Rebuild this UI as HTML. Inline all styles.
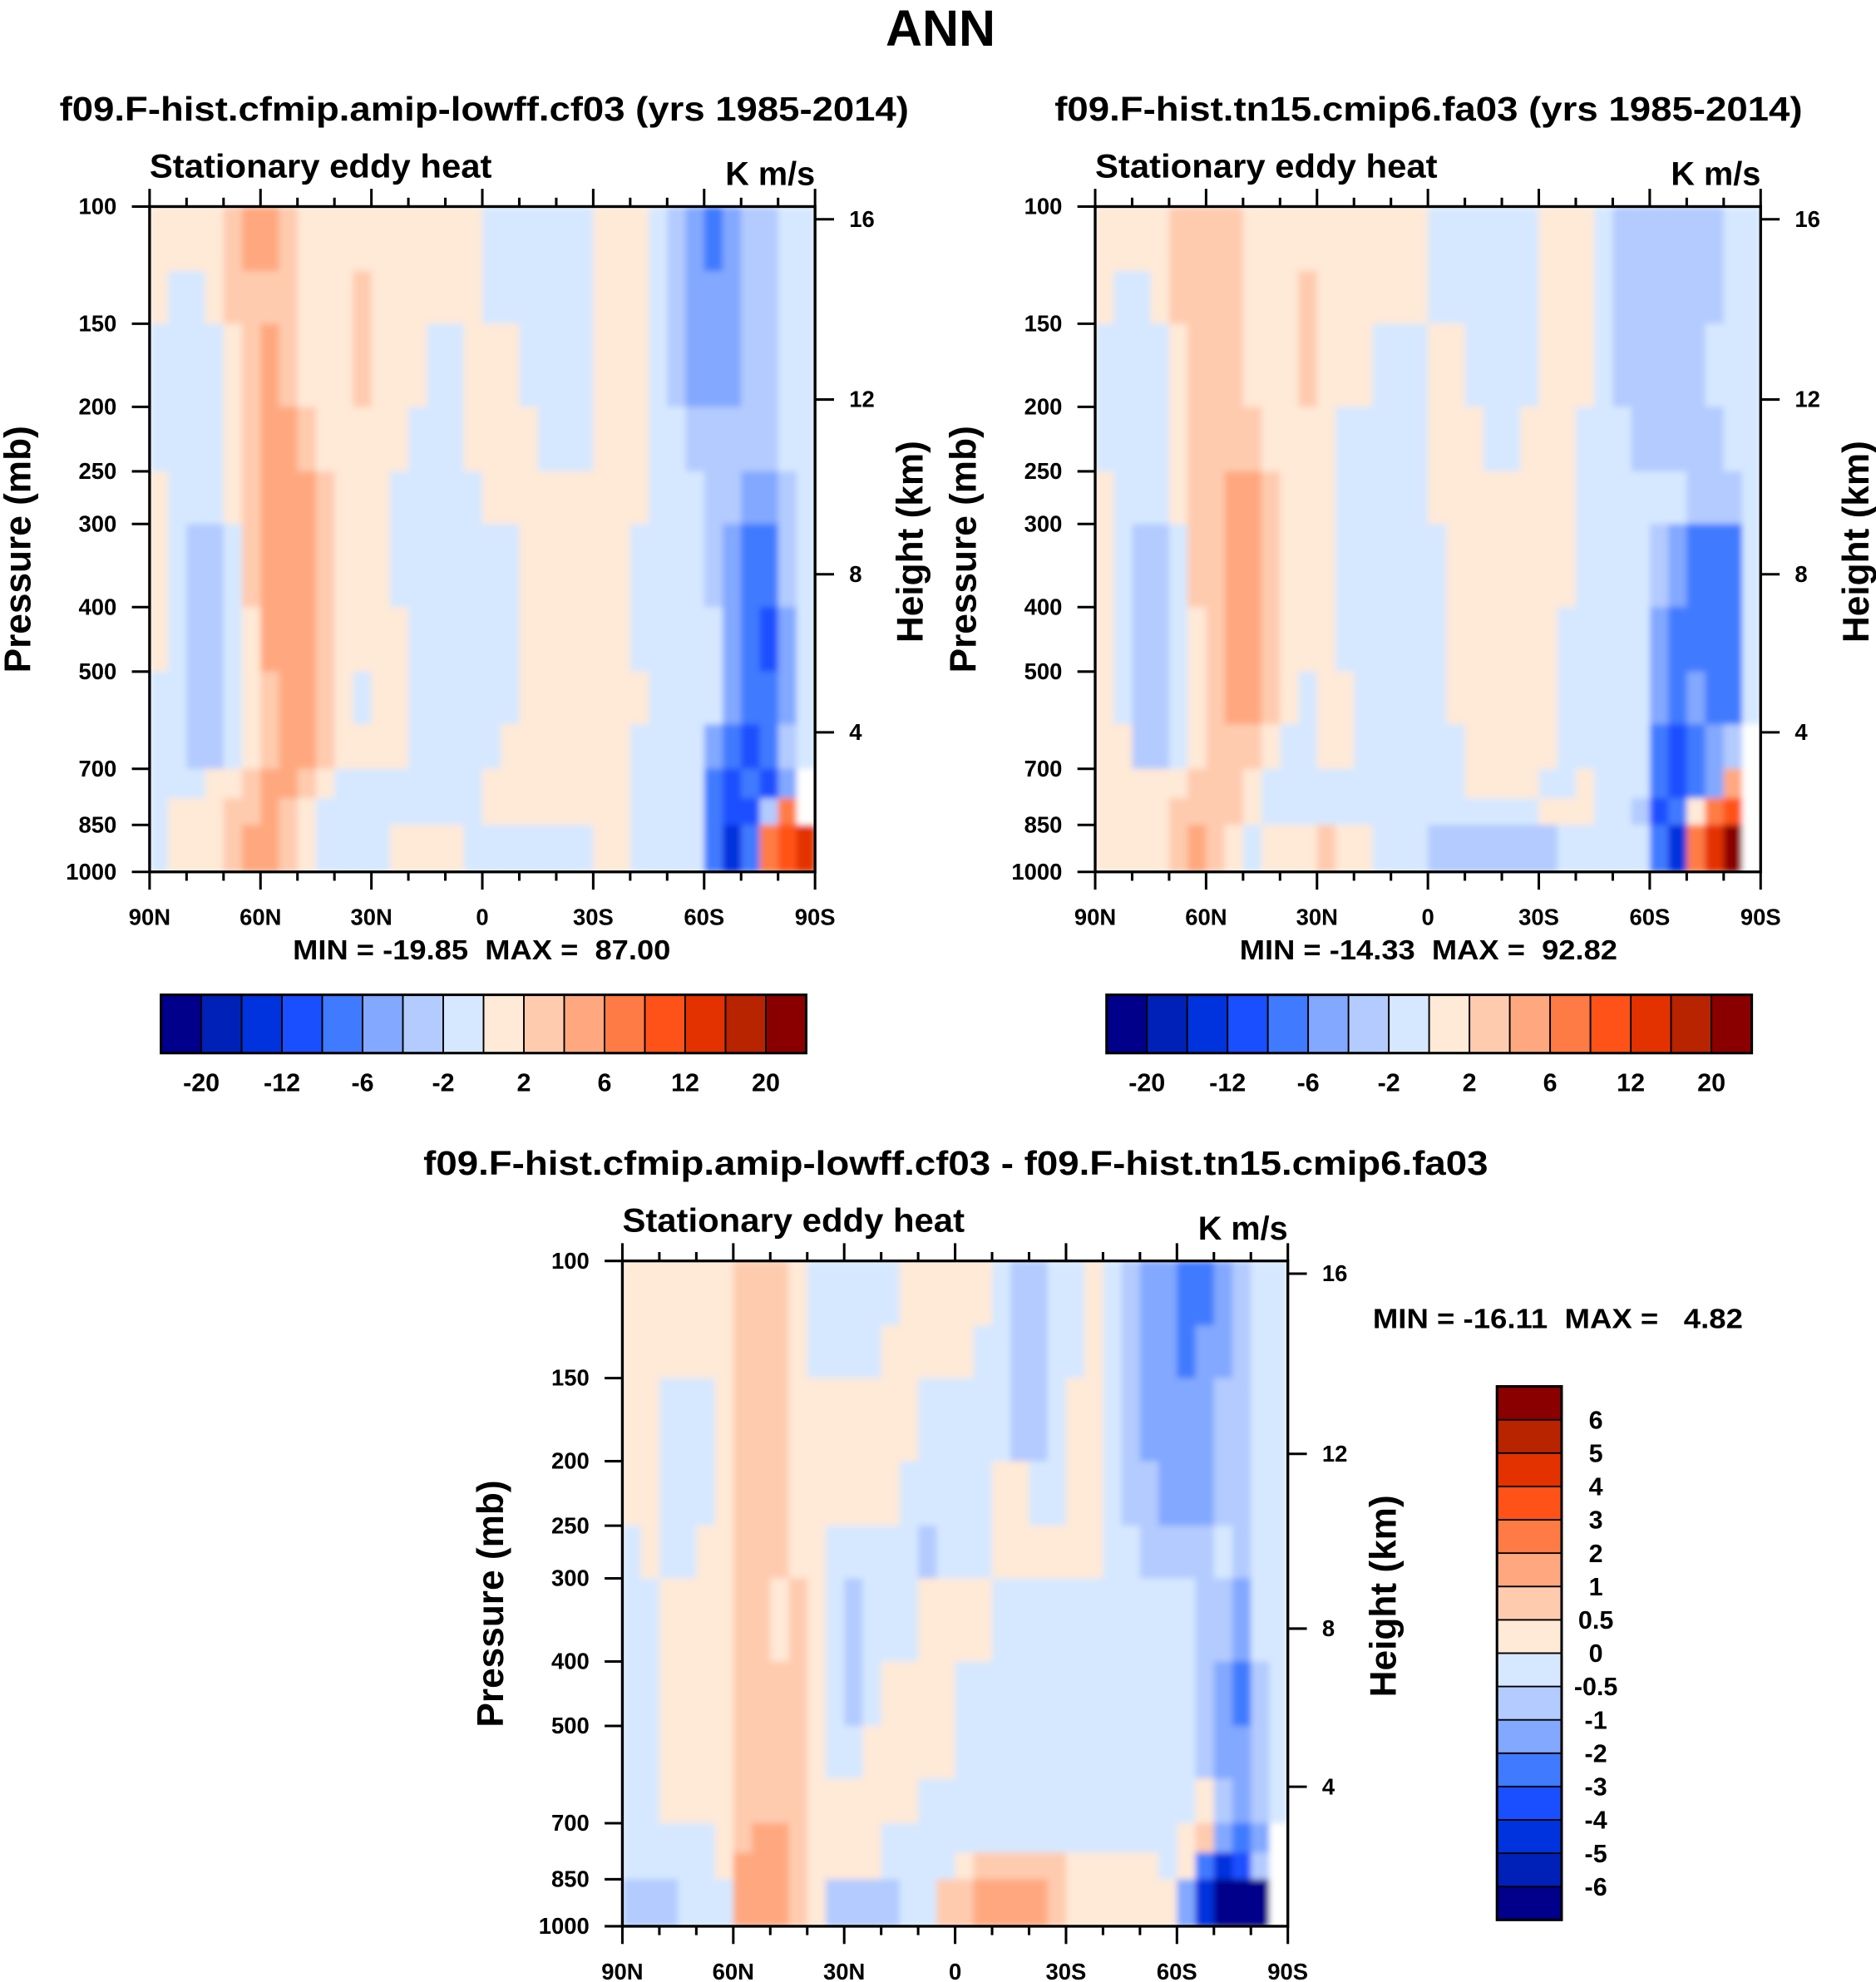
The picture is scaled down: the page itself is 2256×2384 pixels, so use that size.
<!DOCTYPE html>
<html><head><meta charset="utf-8"><title>ANN Stationary eddy heat</title>
<style>
html,body{margin:0;padding:0;background:#fff;}
svg{display:block;font-family:"Liberation Sans",Arial,sans-serif;font-weight:bold;}
text{white-space:pre;}
</style></head>
<body>
<svg id="fig" xmlns="http://www.w3.org/2000/svg" width="2256" height="2384" viewBox="0 0 1480 1564">
<defs>
<filter id="soft" x="0" y="0" width="1" height="1"><feGaussianBlur stdDeviation="2.5" edgeMode="duplicate"/></filter>
</defs>
<rect x="0" y="0" width="1480" height="1564" fill="#fff"/>
</svg>
<script>
const colors = ["#00008a","#0021b8","#0033dd","#1a4fff","#3f7aff","#82a8ff","#b3cbff","#d6e8ff","#ffe9d7","#ffcbaf","#ffa87f","#ff7b45","#ff5218","#e33200","#b82300","#8a0000"];
const levelsAbs = [-20,-16,-12,-8,-6,-4,-2,0,2,4,6,8,12,16,20];
const levelsDiff = [-6,-5,-4,-3,-2,-1,-0.5,0,0.5,1,2,3,4,5,6];
const cbLabelsAbs = ["-20","-12","-6","-2","2","6","12","20"];
const cbLabelsDiff = ["-6","-5","-4","-3","-2","-1","-0.5","0","0.5","1","2","3","4","5","6"];
const latEdges = [];
for (let i = 0; i <= 36; i++) latEdges.push(90 - 5 * i);
const pEdges = [100,125,150,200,250,300,400,500,600,700,775,850,1000];
const pTicks = [100,150,200,250,300,400,500,700,850,1000];
const latTicks = [90,60,30,0,-30,-60,-90];
const latTickLabels = ["90N","60N","30N","0","30S","60S","90S"];
const heightTicks = [4,8,12,16];
const heightTickPress = [617,357,195,104.5];

const field1 = [
[1,1,1,1,3,5,5,3,1,1,1,1,1,1,1,1,1,1,-1,-1,-1,-1,-1,-1,1,1,1,-1,-3,-5,-7,-5,-3,-3,-1,-1],
[1,-1,-1,1,3,3,3,3,1,1,1,3,1,1,1,1,1,1,-1,-1,-1,-1,-1,-1,1,1,1,-1,-3,-5,-5,-5,-3,-3,-1,-1],
[-1,-1,-1,-1,1,3,5,3,1,1,1,3,1,1,1,-1,-1,1,1,1,-1,-1,-1,-1,1,1,1,-1,-3,-5,-5,-5,-3,-3,-1,-1],
[-1,-1,-1,-1,1,3,5,5,3,1,1,1,1,1,-1,-1,-1,1,1,1,1,-1,-1,-1,1,1,1,-1,-1,-3,-3,-3,-3,-3,-1,-1],
[1,-1,-1,-1,1,3,5,5,5,3,1,1,1,-1,-1,-1,-1,-1,1,1,1,1,1,1,1,1,1,-1,-1,-1,-3,-3,-5,-5,-3,-1],
[1,-1,-3,-3,-1,3,5,5,5,3,1,1,1,-1,-1,-1,-1,-1,-1,-1,1,1,1,1,1,1,-1,-1,-1,-1,-3,-5,-7,-7,-3,-1],
[1,-1,-3,-3,-1,1,5,5,5,3,1,1,1,1,-1,-1,-1,-1,-1,-1,1,1,1,1,1,1,-1,-1,-1,-1,-1,-5,-7,-10,-5,-1],
[-1,-1,-3,-3,-1,1,3,5,5,3,1,-1,1,1,-1,-1,-1,-1,-1,-1,1,1,1,1,1,1,1,-1,-1,-1,-1,-5,-7,-7,-5,-1],
[-1,-1,-3,-3,-1,1,3,5,5,3,1,1,1,1,-1,-1,-1,-1,-1,1,1,1,1,1,1,1,-1,-1,-1,-1,-5,-7,-10,-7,-3,-1],
[-1,-1,-1,1,1,3,5,5,3,1,-1,-1,-1,-1,-1,-1,-1,-1,1,1,1,1,1,1,1,1,-1,-1,-1,-1,-7,-10,-7,-10,-5,null],
[-1,1,1,1,3,3,5,3,1,-1,-1,-1,-1,-1,-1,-1,-1,-1,1,1,1,1,1,1,1,1,-1,-1,-1,-1,-7,-10,-10,-3,7,null],
[-1,1,1,1,3,5,5,3,1,-1,-1,-1,-1,1,1,1,1,-1,-1,-1,-1,-1,-1,-1,1,1,-1,-1,-1,-1,-7,-14,-7,7,10,14]
];
const field2 = [
[1,1,1,1,3,3,3,3,1,1,1,1,1,1,1,1,1,1,-1,-1,-1,-1,-1,-1,1,1,1,-1,-3,-3,-3,-3,-3,-3,-1,-1],
[1,-1,-1,1,3,3,3,3,1,1,1,3,1,1,1,1,1,1,-1,-1,-1,-1,-1,-1,1,1,1,-1,-3,-3,-3,-3,-3,-3,-1,-1],
[-1,-1,-1,-1,1,3,3,3,1,1,1,3,1,1,1,-1,-1,-1,1,1,-1,-1,-1,-1,1,1,1,-1,-3,-3,-3,-3,-3,-1,-1,-1],
[-1,-1,-1,-1,1,3,3,3,3,1,1,1,1,-1,-1,-1,-1,-1,1,1,1,-1,-1,1,1,1,-1,-1,-1,-3,-3,-3,-3,-3,-1,-1],
[1,-1,-1,-1,1,3,3,5,5,3,1,1,1,-1,-1,-1,-1,-1,1,1,1,1,1,1,1,1,-1,-1,-1,-1,-1,-1,-3,-3,-3,-1],
[1,-1,-3,-3,-1,3,3,5,5,3,1,1,1,-1,-1,-1,-1,-1,-1,1,1,1,1,1,1,1,-1,-1,-1,-1,-3,-5,-7,-7,-7,-1],
[1,-1,-3,-3,-1,1,3,5,5,3,1,1,1,-1,-1,-1,-1,-1,-1,1,1,1,1,1,1,-1,-1,-1,-1,-1,-5,-7,-7,-7,-7,-1],
[1,-1,-3,-3,-1,1,3,5,5,3,1,-1,1,1,-1,-1,-1,-1,-1,1,1,1,1,1,1,-1,-1,-1,-1,-1,-5,-7,-5,-7,-7,-1],
[1,1,-3,-3,-1,1,3,3,3,1,-1,-1,1,1,-1,-1,-1,-1,-1,-1,1,1,1,1,1,-1,-1,-1,-1,-1,-7,-10,-7,-5,-3,null],
[1,1,1,1,1,3,3,3,1,-1,-1,-1,-1,-1,-1,-1,-1,-1,-1,-1,1,1,1,1,-1,-1,1,-1,-1,-1,-7,-10,-7,-5,5,null],
[1,1,1,1,3,3,3,3,1,-1,-1,-1,-1,-1,-1,-1,-1,-1,-1,-1,-1,-1,-1,-1,1,1,1,-1,-1,-3,-10,-7,1,7,10,null],
[1,1,1,1,3,5,3,1,-1,1,1,1,3,1,1,-1,-1,-1,-3,-3,-3,-3,-3,-3,-3,-1,-1,-1,-1,-1,-7,-14,7,14,25,null]
];
const field3 = [
[.25,.25,.25,.25,.25,.25,.7,.7,.7,.25,-.25,-.25,-.25,-.25,-.25,.25,.25,.25,.25,.25,-.25,-.7,-.7,-.25,-.25,.25,-.25,-.7,-1.5,-1.5,-2.5,-2.5,-1.5,-.7,-.25,-.25],
[.25,.25,.25,.25,.25,.25,.7,.7,.7,.25,-.25,-.25,-.25,-.25,.25,.25,.25,.25,.25,-.25,-.25,-.7,-.7,-.25,-.25,.25,-.25,-.7,-1.5,-1.5,-2.5,-1.5,-1.5,-.7,-.25,-.25],
[.25,.25,-.25,-.25,-.25,.25,.7,.7,.7,.25,.25,.25,.25,.25,.25,.25,-.25,-.25,-.25,-.25,-.25,-.7,-.7,-.25,.25,.25,-.25,-.7,-1.5,-1.5,-1.5,-1.5,-.7,-.7,-.25,-.25],
[.25,.25,-.25,-.25,-.25,.25,.7,.7,.7,.25,.25,.25,.25,.25,.25,-.25,-.25,-.25,-.25,-.25,.25,.25,-.25,-.25,.25,.25,-.25,-.7,-.7,-1.5,-1.5,-1.5,-.7,-.7,-.25,-.25],
[-.25,.25,-.25,-.25,.25,.25,.7,.7,.7,.25,.25,-.25,-.25,-.25,-.25,-.25,-.7,-.25,-.25,-.25,.25,.25,.25,.25,.25,.25,-.25,-.25,-.7,-.7,-.7,-.7,-.25,-.7,-.25,-.25],
[-.25,-.25,.25,.25,.25,.25,.7,.7,.25,.7,.25,-.25,-.7,-.25,-.25,-.25,.25,.25,.25,.25,-.25,-.25,-.25,-.25,-.25,-.25,-.25,-.25,-.25,-.25,-.25,-.7,-.7,-1.5,-.25,-.25],
[-.25,-.25,.25,.25,.25,.25,.7,.7,.7,.7,.25,-.25,-.7,-.25,.25,.25,.25,.25,-.25,-.25,-.25,-.25,-.25,-.25,-.25,-.25,-.25,-.25,-.25,-.25,-.25,-.7,-1.5,-2.5,-.7,-.25],
[-.25,-.25,.25,.25,.25,.25,.7,.7,.7,.7,.25,-.25,-.25,.25,.25,.25,.25,.25,-.25,-.25,-.25,-.25,-.25,-.25,-.25,-.25,-.25,-.25,-.25,-.25,-.25,-.7,-1.5,-1.5,-.7,-.25],
[-.25,-.25,.25,.25,.25,.25,.7,.7,.7,.7,.25,.25,.25,.25,.25,.25,-.25,-.25,-.25,-.25,-.25,-.25,-.25,-.25,-.25,-.25,-.25,-.25,-.25,-.25,-.25,.25,-.7,-1.5,-.7,-.25],
[-.25,-.25,-.25,-.25,-.25,.25,.7,1.5,1.5,.7,.25,.25,.25,.25,-.25,-.25,-.25,-.25,-.25,-.25,-.25,-.25,-.25,-.25,-.25,-.25,-.25,-.25,-.25,-.25,.25,.7,-1.5,-2.5,-1.5,null],
[-.25,-.25,-.25,-.25,-.25,.25,1.5,1.5,1.5,.7,.25,.25,.25,.25,-.25,-.25,-.25,-.25,.25,.7,.7,.7,.7,.7,.25,.25,.25,.25,.25,-.25,.25,-2.5,-4.5,-3.5,-.7,null],
[-.7,-.7,-.7,-.25,-.25,-.25,1.5,1.5,1.5,.7,.25,-.7,-.7,-.7,-.7,-.25,-.25,.7,.7,1.5,1.5,1.5,1.5,.7,.25,.25,.25,.25,.25,.25,-1.5,-4.5,-7,-7,-7,null]
];

const NS = "http://www.w3.org/2000/svg";
const svg = document.getElementById("fig");
const defs = svg.querySelector("defs");
function mk(tag, attrs, parent) {
  const e = document.createElementNS(NS, tag);
  for (const k in attrs) e.setAttribute(k, attrs[k]);
  (parent || svg).appendChild(e);
  return e;
}
function txt(s, attrs, parent) { const e = mk("text", attrs, parent); e.textContent = s; return e; }
function colorFor(v, levels) {
  let i = 0;
  while (i < levels.length && v >= levels[i]) i++;
  return colors[i];
}

function panel(name, x0, y0, field, levels, title, titleX, titleW) {
  const W = 525, H = 525;
  const g = mk("g", {});
  
  
  const xS = lat => x0 + (90 - lat) / 180 * W;
  const yS = p => y0 + H - Math.log(1000 / p) / Math.log(10) * H;
  const t = txt(title, {x: titleX, y: y0 - 68, "font-size": 27, "text-anchor": "middle", textLength: titleW, lengthAdjust: "spacingAndGlyphs"}, g);
  
  
  const st = txt("Stationary eddy heat", {x: x0, y: y0 - 23, "font-size": 26, textLength: 270, lengthAdjust: "spacingAndGlyphs"}, g);
  
  
  const un = txt("K m/s", {x: x0 + W, y: y0 - 17, "font-size": 26, "text-anchor": "end"}, g);
  
  
  const cpId = "clip-" + name;
  const cp = mk("clipPath", {id: cpId}, defs);
  mk("rect", {x: x0, y: y0, width: W, height: H}, cp);
  const outer = mk("g", {"clip-path": `url(#${cpId})`}, g);
  const cg = mk("g", {filter: "url(#soft)"}, outer);
  
  
  for (let r = 0; r < field.length; r++) {
    for (let c = 0; c < field[r].length; c++) {
      const v = field[r][c];
      const xa = xS(latEdges[c]), xb = xS(latEdges[c + 1]);
      const ya = yS(pEdges[r]), yb = yS(pEdges[r + 1]);
      const cell = mk("rect", {x: xa, y: ya, width: xb - xa + 0.6, height: yb - ya + 0.6, fill: v === null ? "#ffffff" : colorFor(v, levels)}, cg);
      
      
    }
  }
  const fr = mk("rect", {x: x0, y: y0, width: W, height: H, fill: "none", stroke: "#000", "stroke-width": 2.2}, g);
  
  
  for (let lat = 90; lat >= -90; lat -= 10) {
    const major = lat % 30 === 0;
    const L = major ? 14 : 7;
    const xx = xS(lat);
    mk("line", {x1: xx, y1: y0 + H, x2: xx, y2: y0 + H + L, stroke: "#000", "stroke-width": 2}, g);
    mk("line", {x1: xx, y1: y0, x2: xx, y2: y0 - L, stroke: "#000", "stroke-width": 2}, g);
  }
  latTicks.forEach((lat, i) => {
    const l = txt(latTickLabels[i], {x: xS(lat), y: y0 + H + 42, "font-size": 18, "text-anchor": "middle"}, g);
    
    
  });
  pTicks.forEach(p => {
    const yy = yS(p);
    mk("line", {x1: x0 - 14, y1: yy, x2: x0, y2: yy, stroke: "#000", "stroke-width": 2}, g);
    const l = txt(String(p), {x: x0 - 26, y: yy + 6, "font-size": 18, "text-anchor": "end"}, g);
    
    
  });
  heightTicks.forEach((h, i) => {
    const yy = yS(heightTickPress[i]);
    mk("line", {x1: x0 + W, y1: yy, x2: x0 + W + 15, y2: yy, stroke: "#000", "stroke-width": 2}, g);
    const l = txt(String(h), {x: x0 + W + 27, y: yy + 6, "font-size": 18}, g);
    
    
  });
  const ya = txt("Pressure (mb)", {x: 0, y: 0, "font-size": 29, "text-anchor": "middle", transform: `translate(${x0 - 94},${y0 + H / 2 + 8}) rotate(-90)`}, g);
  
  
  const yb = txt("Height (km)", {x: 0, y: 0, "font-size": 29, "text-anchor": "middle", transform: `translate(${x0 + W + 85},${y0 + H / 2 + 2}) rotate(-90)`}, g);
  
  
  return g;
}

function hColorbar(name, x0, y0, w, h) {
  const g = mk("g", {});
  
  
  const bw = w / colors.length;
  colors.forEach((c, i) => {
    const b = mk("rect", {x: x0 + i * bw, y: y0, width: bw, height: h, fill: c, stroke: "#000", "stroke-width": 1.2}, g);
    
    
  });
  mk("rect", {x: x0, y: y0, width: w, height: h, fill: "none", stroke: "#000", "stroke-width": 2}, g);
  cbLabelsAbs.forEach((s, i) => {
    const l = txt(s, {x: x0 + (2 * i + 1) * bw, y: y0 + h + 30, "font-size": 20, "text-anchor": "middle"}, g);
    
    
  });
}

function vColorbar(name, x0, y0, w, h) {
  const g = mk("g", {});
  
  
  const bh = h / colors.length;
  colors.forEach((c, i) => {
    const b = mk("rect", {x: x0, y: y0 + h - (i + 1) * bh, width: w, height: bh, fill: c, stroke: "#000", "stroke-width": 1.2}, g);
    
    
  });
  mk("rect", {x: x0, y: y0, width: w, height: h, fill: "none", stroke: "#000", "stroke-width": 2}, g);
  cbLabelsDiff.forEach((s, i) => {
    const l = txt(s, {x: x0 + w + 27, y: y0 + h - (i + 1) * bh + 7, "font-size": 20, "text-anchor": "middle"}, g);
    
    
  });
}

const main = txt("ANN", {x: 742, y: 36, "font-size": 40, "text-anchor": "middle"});



panel("panel-cf03", 118, 163, field1, levelsAbs, "f09.F-hist.cfmip.amip-lowff.cf03 (yrs 1985-2014)", 382, 670);
panel("panel-fa03", 864, 163, field2, levelsAbs, "f09.F-hist.tn15.cmip6.fa03 (yrs 1985-2014)", 1127, 590);
panel("panel-diff", 491, 995, field3, levelsDiff, "f09.F-hist.cfmip.amip-lowff.cf03 - f09.F-hist.tn15.cmip6.fa03", 754, 840);

const m1 = txt("MIN = -19.85  MAX =  87.00", {x: 380, y: 757, "font-size": 22, "text-anchor": "middle", textLength: 298, lengthAdjust: "spacingAndGlyphs"});


const m2 = txt("MIN = -14.33  MAX =  92.82", {x: 1127, y: 757, "font-size": 22, "text-anchor": "middle", textLength: 298, lengthAdjust: "spacingAndGlyphs"});


const m3 = txt("MIN = -16.11  MAX =   4.82", {x: 1083, y: 1048, "font-size": 22, textLength: 292, lengthAdjust: "spacingAndGlyphs"});



hColorbar("colorbar-cf03", 127, 785, 509, 46);
hColorbar("colorbar-fa03", 873, 785, 509, 46);
vColorbar("colorbar-diff", 1181, 1094, 51, 421);
</script>
</body></html>
